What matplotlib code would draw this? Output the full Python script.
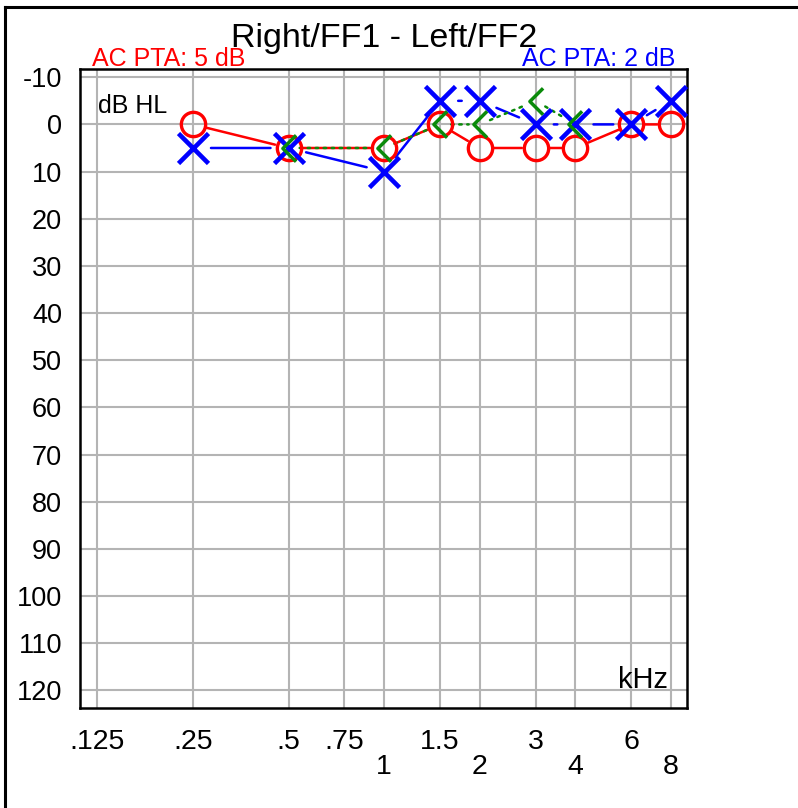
import matplotlib
matplotlib.use("Agg")
import matplotlib.pyplot as plt
from matplotlib.path import Path
from matplotlib.lines import Line2D

plt.rcParams['font.family'] = ['Liberation Sans', 'DejaVu Sans']

# Audiogram data (dB HL)
freqs = [0.25, 0.5, 1, 1.5, 2, 3, 4, 6, 8]
right_ac = [0, 5, 5, 0, 5, 5, 5, 0, 0]
left_ac = [5, 5, 10, -5, -5, 0, 0, 0, -5]
bc_freqs = [0.5, 1, 1.5, 2, 3, 4]
bc_vals = [5, 5, 0, 0, -5, 0]

row1_ticks = [0.125, 0.25, 0.5, 0.75, 1.5, 3, 6]
row1_labels = ['.125', '.25', '.5', '.75', '1.5', '3', '6']
row2_ticks = [1, 2, 4, 8]
row2_labels = ['1', '2', '4', '8']
y_ticks = list(range(-10, 121, 10))

title_text = 'Right/FF1 - Left/FF2'
right_pta = 'AC PTA: 5 dB'
left_pta = 'AC PTA: 2 dB'

RED = '#ff0000'
BLUE = '#0000ff'
GREEN = '#0a8a0a'
GRID = '#b4b4b4'

W, H = 798, 808
fig = plt.figure(figsize=(W / 100, H / 100), dpi=100)


def fx(px):
    return px / W


def fy(py):
    return 1 - py / H


ax = fig.add_axes([fx(80), fy(708), fx(687) - fx(80), fy(69) - fy(708)])
ax.set_xscale('log', base=2)
ax.set_xlim(0.125 * 2 ** -0.181, 8 * 2 ** 0.167)
ax.set_ylim(123.75, -11.75)

ax.set_yticks(y_ticks)
ax.set_yticklabels([str(v) for v in y_ticks])
ax.set_xticks(row1_ticks)
ax.set_xticklabels(row1_labels)
ax.set_xticks(row2_ticks, minor=True)
ax.set_xticklabels(row2_labels, minor=True)

ax.tick_params(axis='y', length=0, pad=13, labelsize=19.5)
ax.tick_params(axis='x', which='major', length=0, pad=15, labelsize=20.5)
ax.tick_params(axis='x', which='minor', length=0, pad=33, labelsize=20.5)

ax.grid(True, which='both', axis='x', color=GRID, lw=1.5)
ax.grid(True, which='major', axis='y', color=GRID, lw=1.5)
ax.set_axisbelow(True)
for sp in ax.spines.values():
    sp.set_linewidth(1.8)
    sp.set_color('black')


def connect(xs, ys, color, shrink, ls='-', lw=1.8):
    for i in range(len(xs) - 1):
        ax.annotate('', xy=(xs[i + 1], ys[i + 1]), xytext=(xs[i], ys[i]),
                    arrowprops=dict(arrowstyle='-', color=color, lw=lw,
                                    linestyle=ls, shrinkA=shrink, shrinkB=shrink),
                    annotation_clip=False)


connect(freqs, right_ac, RED, 10)
connect(freqs, left_ac, BLUE, 13)
connect(bc_freqs, bc_vals, GREEN, 8, ls=(0, (1, 2.2)))

chevron = Path([(0.5, 1), (-0.5, 0), (0.5, -1)],
               [Path.MOVETO, Path.LINETO, Path.LINETO])

ax.plot(freqs, right_ac, ls='none', marker='o', ms=17.5, mew=2.4,
        mec=RED, mfc='none', clip_on=False, zorder=3)
ax.plot(freqs, left_ac, ls='none', marker='x', ms=21, mew=3.3,
        mec=BLUE, clip_on=False, zorder=4)
ax.plot(bc_freqs, bc_vals, ls='none', marker=chevron, ms=19, mew=2.5,
        mec=GREEN, mfc='none', clip_on=False, zorder=5)

fig.text(fx(384), fy(47), title_text, ha='center', va='baseline', fontsize=24.5)
fig.text(fx(92), fy(66), right_pta, ha='left', va='baseline', fontsize=18, color=RED)
fig.text(fx(675), fy(66), left_pta, ha='right', va='baseline', fontsize=18, color=BLUE)
fig.text(fx(98), fy(113), 'dB HL', ha='left', va='baseline', fontsize=18)
fig.text(fx(668), fy(688), 'kHz', ha='right', va='baseline', fontsize=21)

# Outer frame (left and top edges)
fig.add_artist(Line2D([fx(5), fx(5)], [fy(7), 0], color='black', lw=2.2,
                      transform=fig.transFigure))
fig.add_artist(Line2D([fx(5), 1], [fy(7), fy(7)], color='black', lw=2.2,
                      transform=fig.transFigure))

fig.savefig('out.png', dpi=100)
